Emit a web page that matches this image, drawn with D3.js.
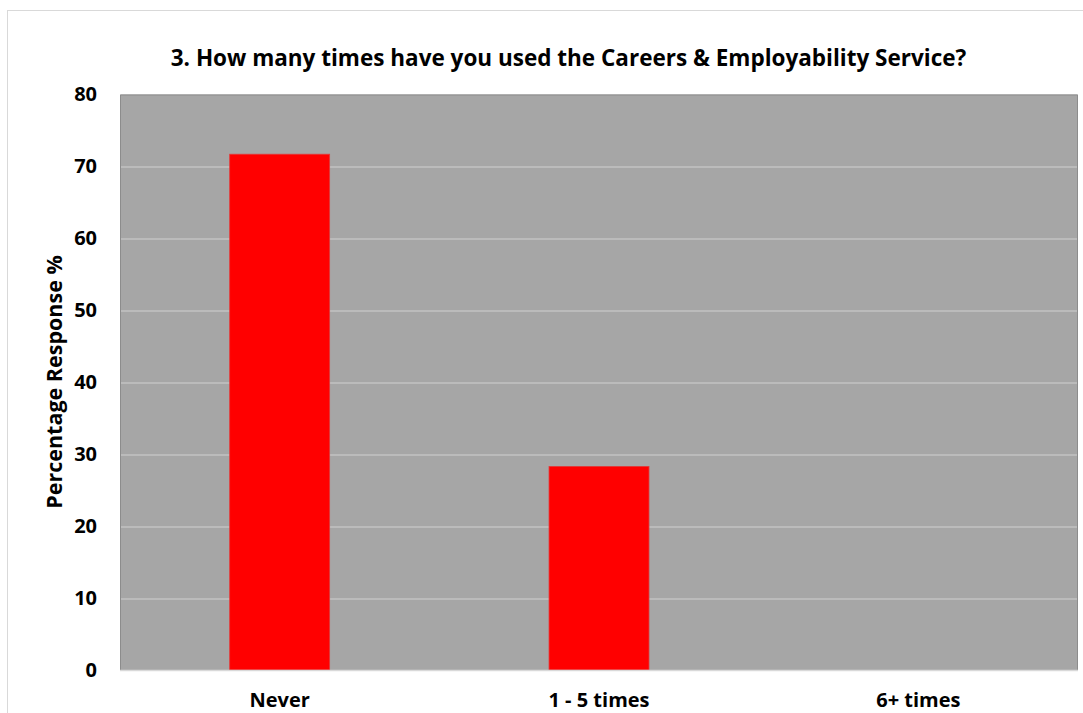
<!DOCTYPE html>
<html>
<head>
<meta charset="utf-8">
<script src="https://cdn.jsdelivr.net/npm/d3@7"></script>
<style>
  html, body { margin: 0; padding: 0; background: #ffffff; }
  svg { display: block; }
  text { font-family: "Open Sans", Lato, sans-serif; font-weight: bold; fill: #000; }
</style>
</head>
<body>
<svg id="chart" width="1083" height="713"></svg>
<script>
// Survey responses: share of respondents per usage frequency
const categories = ["Never", "1 - 5 times", "6+ times"];
const values = [71.7, 28.3, 0];
const yTicks = [0, 10, 20, 30, 40, 50, 60, 70, 80];
const title = "3. How many times have you used the Careers & Employability Service?";
const yTitle = "Percentage Response %";

const svg = d3.select("#chart");
const W = 1083, H = 713;
const margin = { left: 120, top: 94.5, right: 5, bottom: 43 };
const plotW = 1078 - margin.left;
const plotH = 670 - margin.top;
const FONT = "'Open Sans', Lato, sans-serif";

// outer chart frame
svg.append("rect")
  .attr("x", 7.5).attr("y", 10.5)
  .attr("width", W).attr("height", H)
  .attr("fill", "#fff").attr("stroke", "#d9d9d9").attr("stroke-width", 1);

const x = d3.scaleBand().domain(categories).range([0, plotW]).padding(0);
const y = d3.scaleLinear().domain([0, 80]).range([plotH, 0]);

const g = svg.append("g").attr("transform", `translate(${margin.left},${margin.top})`);

// plot background
g.append("rect")
  .attr("x", 0).attr("y", 0).attr("width", plotW).attr("height", plotH)
  .attr("fill", "#a6a6a6");

// horizontal gridlines
g.append("g").selectAll("line")
  .data(yTicks.filter(d => d > 0 && d < 80))
  .join("line")
  .attr("x1", 0).attr("x2", plotW)
  .attr("y1", d => Math.round(y(d)) + 0.5).attr("y2", d => Math.round(y(d)) + 0.5)
  .attr("stroke", "#d0d0d0").attr("stroke-width", 1);

// plot border (top, left, right)
g.append("path")
  .attr("d", `M0.5,${plotH} V0.5 H${plotW - 0.5} V${plotH}`)
  .attr("fill", "none").attr("stroke", "#8c8c8c").attr("stroke-width", 1);

// bars
const barFrac = 0.313;
g.append("g").selectAll("rect")
  .data(categories.map((c, i) => ({ c, v: values[i] })).filter(d => d.v > 0))
  .join("rect")
  .attr("x", d => x(d.c) + x.bandwidth() * (1 - barFrac) / 2)
  .attr("width", x.bandwidth() * barFrac)
  .attr("y", d => y(d.v))
  .attr("height", d => y(0) - y(d.v))
  .attr("fill", "#ff0000")
  .attr("stroke", "#e23a3a").attr("stroke-width", 0.8);

// baseline
g.append("line")
  .attr("x1", 0).attr("x2", plotW)
  .attr("y1", plotH + 0.5).attr("y2", plotH + 0.5)
  .attr("stroke", "#d9d9d9").attr("stroke-width", 1.5);

// y axis labels
const yAxis = d3.axisLeft(y).tickValues(yTicks).tickSize(0).tickPadding(23);
const ya = g.append("g").call(yAxis);
ya.select(".domain").remove();
ya.selectAll("text")
  .style("font-family", FONT)
  .style("font-weight", "bold")
  .style("font-size", "20px")
  .attr("fill", "#000");

// x axis labels
const xAxis = d3.axisBottom(x).tickSize(0).tickPadding(23);
const xa = g.append("g").attr("transform", `translate(0,${plotH})`).call(xAxis);
xa.select(".domain").remove();
xa.selectAll("text")
  .style("font-family", FONT)
  .style("font-weight", "bold")
  .style("font-size", "20px")
  .attr("fill", "#000");

// y axis title
svg.append("text")
  .attr("transform", `translate(62,382) rotate(-90)`)
  .attr("text-anchor", "middle")
  .style("font-size", "21.5px")
  .text(yTitle);

// chart title
svg.append("text")
  .attr("x", 568.5).attr("y", 66)
  .attr("text-anchor", "middle")
  .style("font-size", "22.5px")
  .text(title);
</script>
</body>
</html>
